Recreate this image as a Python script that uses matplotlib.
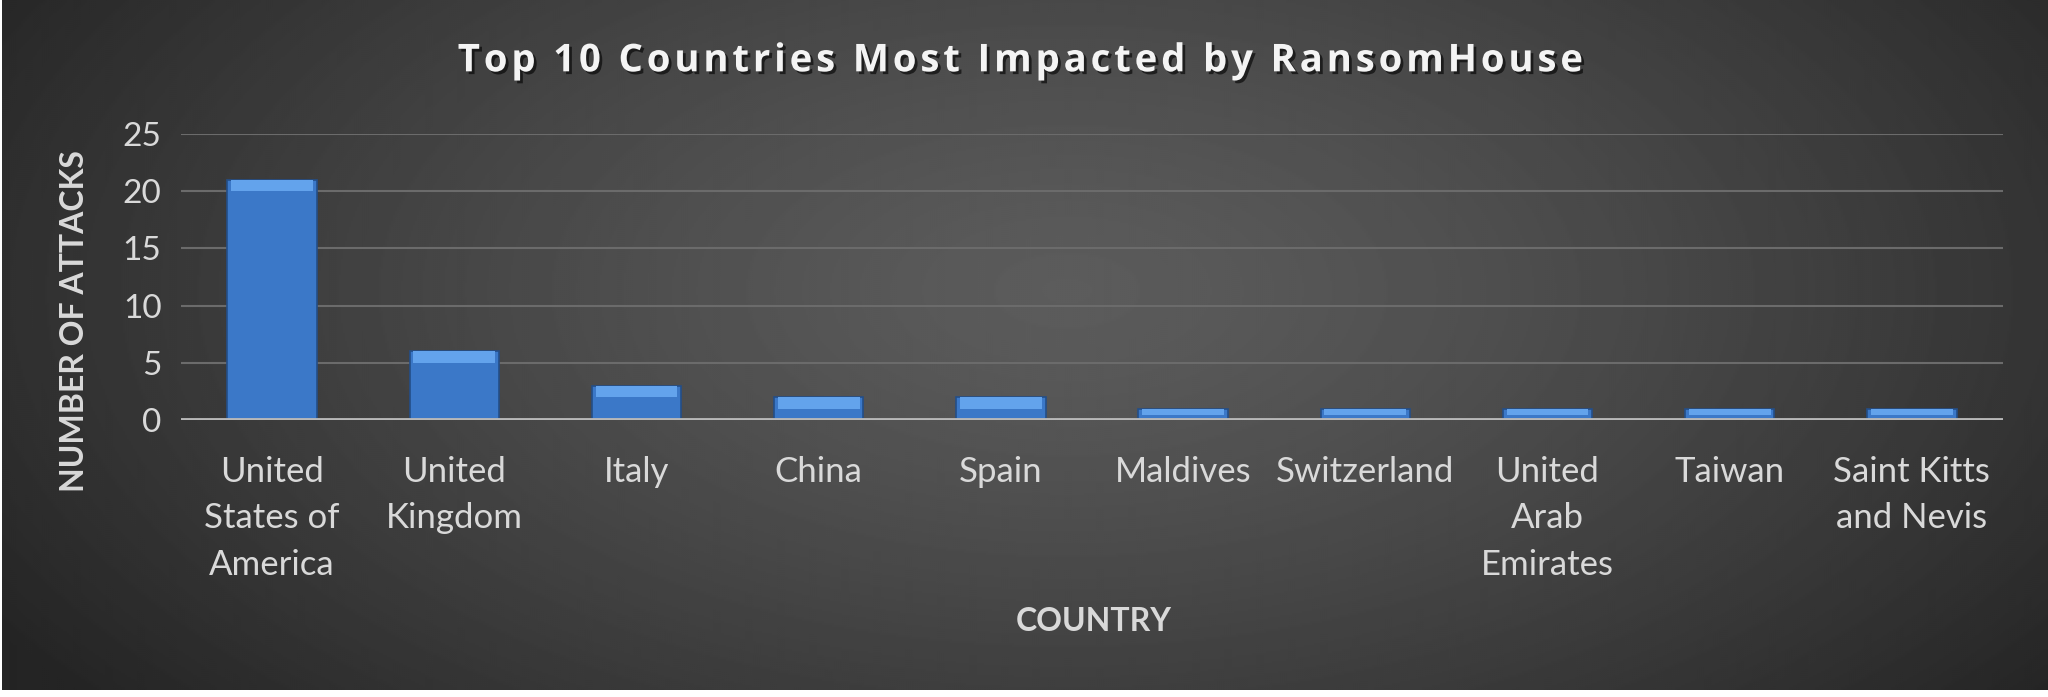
import numpy as np
import matplotlib
matplotlib.use("Agg")
import matplotlib.pyplot as plt
import matplotlib.patheffects as pe

countries = ["United\nStates of\nAmerica", "United\nKingdom", "Italy", "China", "Spain",
             "Maldives", "Switzerland", "United\nArab\nEmirates", "Taiwan", "Saint Kitts\nand Nevis"]
attacks = [21, 6, 3, 2, 2, 1, 1, 1, 1, 1]
y_ticks = [0, 5, 10, 15, 20, 25]
title = "Top 10 Countries Most Impacted by RansomHouse"

TEXT = "#d9d9d9"

fig = plt.figure(figsize=(20.48, 6.97), dpi=100, facecolor="white")

# dark radial background
bg = fig.add_axes([0.001, 7 / 697, 0.999, 690 / 697])
h, w = 345, 1024
yy, xx = np.mgrid[0:h, 0:w]
r = np.sqrt(((xx - 0.52 * w) / (0.62 * w)) ** 2 + ((yy - 0.42 * h) / (0.95 * h)) ** 2)
shade = 0x5c - (0x5c - 0x24) * np.clip(r, 0, 1) ** 1.3
bg.imshow(shade, cmap="gray", vmin=0, vmax=255, aspect="auto", interpolation="bilinear")
bg.set_axis_off()

ax = fig.add_axes([181 / 2048, 1 - 420 / 697, (2003 - 181) / 2048, (420 - 134) / 697])
ax.patch.set_alpha(0)

x = np.arange(len(countries))
ax.bar(x, attacks, width=0.49, color="#3b78c8", edgecolor="#244e88", linewidth=1.2, zorder=3)
# lighter bevel at the top of each bar
bevel = [min(1.0, v * 0.55) for v in attacks]
ax.bar(x, bevel, bottom=[v - b for v, b in zip(attacks, bevel)], width=0.45,
       color="#63a3ec", linewidth=0, zorder=4)

ax.set_xlim(-0.5, len(countries) - 0.5)
ax.set_ylim(0, 25)
ax.set_yticks(y_ticks)
ax.set_xticks(x)
ax.set_xticklabels(countries, fontfamily="Lato", fontsize=25, color=TEXT, linespacing=1.55)
ax.set_yticklabels([str(t) for t in y_ticks], fontfamily="Lato", fontsize=24, color=TEXT)
ax.tick_params(axis="both", length=0)
ax.tick_params(axis="x", pad=26)
ax.tick_params(axis="y", pad=14)

ax.grid(axis="y", color="#6b6b6b", linewidth=1.5, zorder=0)
ax.axhline(0, color="#b8b8b8", linewidth=3.5, zorder=5)
for s in ax.spines.values():
    s.set_visible(False)

# letter-spaced title
spaced = "\u200a".join(title)
fig.text(0.499, 0.912, spaced, ha="center", va="center",
         fontfamily=["Open Sans", "DejaVu Sans"], fontweight="bold", fontsize=27.6, color="#f4f4f4",
         path_effects=[pe.withSimplePatchShadow(offset=(2, -2), shadow_rgbFace="black", alpha=0.6)])
fig.text(0.0366, 0.539, "NUMBER OF ATTACKS", rotation=90, ha="center", va="center",
         fontfamily="Lato", fontweight="bold", fontsize=23, color=TEXT)
fig.text(0.534, 0.108, "COUNTRY", ha="center", va="center",
         fontfamily="Lato", fontweight="bold", fontsize=23, color=TEXT)

fig.savefig("out.png", dpi=100, facecolor="white")
